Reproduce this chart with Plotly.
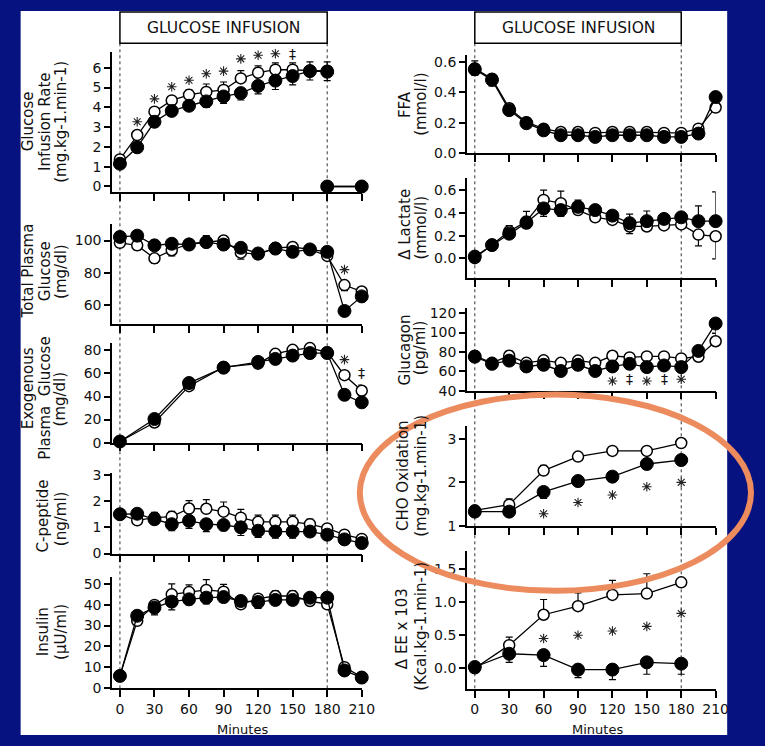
import plotly.graph_objects as go

W, H = 765, 746

# ---------------- data ----------------
t15 = [0, 15, 30, 45, 60, 75, 90, 105, 120, 135, 150, 165, 180, 195, 210]
t30 = [0, 30, 60, 90, 120, 150, 180]
gir_t = [0, 15, 30, 45, 60, 75, 90, 105, 120, 135, 150, 165, 180]
exo_t = [0, 30, 60, 90, 120, 135, 150, 165, 180, 195, 210]
x_ticks = [0, 30, 60, 90, 120, 150, 180, 210]
x_ticklabels = ["0", "30", "60", "90", "120", "150", "180", "210"]

# Glucose infusion rate
gir_open = [1.37, 2.6, 3.78, 4.35, 4.63, 4.78, 4.88, 5.46, 5.75, 5.9, 5.9, 5.85, 5.85]
gir_open_up = [0.1, 0.15, 0.1, 0.15, 0.25, 0.4, 0.4, 0.4, 0.35, 0.35, 0.35, 0.45, 0.45]
gir_fill = [1.15, 1.98, 3.27, 3.82, 4.08, 4.3, 4.55, 4.72, 5.08, 5.35, 5.58, 5.83, 5.8]
gir_fill_dn = [0.1, 0.1, 0.15, 0.15, 0.2, 0.3, 0.35, 0.35, 0.4, 0.45, 0.45, 0.45, 0.45]
gir_post_t = [180, 210]
gir_post = [0, 0]
gir_sig_x = [15, 30, 45, 60, 75, 90, 105, 120, 135, 150]
gir_sig_y = [3.27, 4.43, 5.04, 5.37, 5.7, 5.83, 6.45, 6.63, 6.71, 6.71]
gir_sig = ["*", "*", "*", "*", "*", "*", "*", "*", "*", "‡"]

# Total plasma glucose
tpg_open = [98.6, 97, 89, 94, 98, 99, 100, 92.5, 91.5, 95.5, 96, 94.5, 90.5, 72.5, 68.5]
tpg_open_dn = [1, 3, 3, 3.5, 2, 1, 1, 4, 2, 1, 1, 2, 1, 3.5, 1]
tpg_fill = [102.2, 103, 97, 98, 97.5, 99, 97.5, 95.5, 92, 95, 93, 94.5, 93, 56.5, 65.5]
tpg_fill_up = [1, 1, 1.5, 2, 3, 4, 2, 2, 1, 1, 1, 1, 1, 1, 1]
tpg_fill_dn = [1, 1, 1, 1, 1, 1, 1, 1, 3, 1, 1, 1, 1, 1, 1]
tpg_sig_x = [195]
tpg_sig_y = [82]
tpg_sig = ["*"]

# Exogenous plasma glucose
exo_open = [1, 17.5, 49, 65.5, 68.5, 77, 80.5, 82, 78.5, 58.5, 45]
exo_open_up = [0, 0, 0, 0, 0, 1, 1, 2, 1, 0, 5]
exo_open_dn = [0, 0, 0, 0, 0, 0, 0, 0, 0, 3, 0]
exo_fill = [1, 20.5, 51.7, 65, 70, 72.6, 75.5, 77.7, 77.7, 41.5, 35]
exo_fill_dn = [0, 1, 1, 1, 1, 1, 1, 1, 1, 1, 3]
exo_sig_x = [195, 210]
exo_sig_y = [72, 60.7]
exo_sig = ["*", "‡"]

# C-peptide
cp_open = [1.5, 1.27, 1.37, 1.41, 1.72, 1.71, 1.6, 1.37, 1.21, 1.21, 1.21, 1.12, 0.96, 0.72, 0.56]
cp_open_up = [0.05, 0.1, 0.2, 0.2, 0.3, 0.35, 0.37, 0.32, 0.26, 0.26, 0.26, 0.2, 0.12, 0.08, 0.05]
cp_fill = [1.5, 1.52, 1.31, 1.12, 1.25, 1.12, 1.09, 1.0, 0.87, 0.84, 0.84, 0.84, 0.72, 0.54, 0.4]
cp_fill_dn = [0.05, 0.05, 0.19, 0.25, 0.29, 0.28, 0.22, 0.31, 0.25, 0.25, 0.25, 0.18, 0.15, 0.08, 0.05]

# Insulin
ins_open = [5.8, 32.3, 39.9, 45, 46.1, 47.1, 46.3, 40.2, 42.9, 44.2, 44.2, 41.8, 40.2, 10, 5.2]
ins_open_up = [0, 0, 2, 5, 3.5, 5, 3.5, 1, 0, 2.5, 2.5, 1, 0, 0, 0]
ins_fill = [5.8, 34.7, 38.6, 41.5, 42.6, 43.4, 43.7, 41.8, 41.3, 42.3, 42.3, 43.4, 43.4, 8.4, 5]
ins_fill_dn = [0, 0, 3.5, 4, 2.5, 3, 2, 1.5, 3, 2, 2, 1, 1, 1, 0]

# FFA
ffa_open = [0.557, 0.489, 0.296, 0.204, 0.161, 0.139, 0.139, 0.133, 0.139, 0.139, 0.139, 0.133, 0.133, 0.161, 0.3]
ffa_open_up = [0.05, 0.03, 0.03, 0.01, 0.01, 0.01, 0.01, 0.01, 0.01, 0.01, 0.01, 0.01, 0.01, 0.01, 0.01]
ffa_fill = [0.551, 0.482, 0.283, 0.197, 0.15, 0.118, 0.118, 0.107, 0.118, 0.118, 0.118, 0.107, 0.107, 0.129, 0.369]
ffa_fill_dn = [0.04, 0.04, 0.03, 0.02, 0.01, 0.01, 0.01, 0.01, 0.01, 0.01, 0.01, 0.01, 0.01, 0.01, 0.01]

# Delta lactate
lac_open = [0.0, 0.116, 0.238, 0.325, 0.516, 0.487, 0.426, 0.362, 0.339, 0.281, 0.281, 0.29, 0.299, 0.209, 0.194]
lac_open_up = [0, 0, 0.05, 0.09, 0.087, 0.107, 0, 0, 0, 0, 0, 0, 0, 0, 0]
lac_open_dn = [0, 0, 0, 0, 0, 0, 0.02, 0.03, 0.03, 0.064, 0.035, 0.03, 0.02, 0.1, 0.2]
lac_fill = [0.014, 0.116, 0.217, 0.313, 0.441, 0.426, 0.455, 0.426, 0.377, 0.31, 0.328, 0.348, 0.362, 0.328, 0.328]
lac_fill_up = [0, 0, 0, 0, 0, 0, 0.06, 0.03, 0.035, 0.08, 0.09, 0.03, 0.04, 0.136, 0.26]
lac_fill_dn = [0, 0, 0.04, 0.03, 0.07, 0.056, 0, 0, 0, 0, 0, 0, 0, 0, 0]

# Glucagon
glc_open = [76, 68.7, 76, 68.7, 71.3, 68.7, 71, 68.7, 76, 74.3, 75.3, 75.3, 73.3, 75, 91]
glc_open_up = [2, 1, 5, 2, 2, 1, 2, 1, 4, 4, 4, 4, 3, 1, 8]
glc_fill = [75, 67.7, 71, 65, 66.7, 60.3, 66.7, 60.3, 65, 67.7, 64.3, 66, 64.3, 81, 109.3]
glc_fill_dn = [2, 1, 4, 2, 3, 1, 3, 3, 3, 3, 3, 3, 3, 1, 10]
glc_sig_x = [120, 135, 150, 165, 180]
glc_sig_y = [50, 51.7, 50, 51.7, 51.7]
glc_sig = ["*", "‡", "*", "‡", "*"]

# CHO oxidation
cho_open = [1.36, 1.49, 2.27, 2.59, 2.72, 2.72, 2.9]
cho_open_up = [0.05, 0.13, 0.12, 0.05, 0.07, 0.07, 0.07]
cho_fill = [1.33, 1.33, 1.78, 2.03, 2.13, 2.42, 2.51]
cho_fill_dn = [0.1, 0.03, 0.15, 0.07, 0.1, 0.12, 0.1]
cho_sig_x = [60, 90, 120, 150, 180]
cho_sig_y = [1.28, 1.54, 1.71, 1.9, 2.0]
cho_sig = ["*", "*", "*", "*", "*"]

# Delta energy expenditure
ee_open = [0.0, 0.35, 0.81, 0.94, 1.11, 1.13, 1.3]
ee_open_up = [0, 0.12, 0.23, 0.2, 0.22, 0.3, 0.05]
ee_fill = [0.02, 0.22, 0.2, -0.02, -0.02, 0.09, 0.07]
ee_fill_dn = [0.02, 0.13, 0.17, 0.12, 0.15, 0.18, 0.16]
ee_sig_x = [60, 90, 120, 150, 180]
ee_sig_y = [0.45, 0.5, 0.565, 0.634, 0.83]
ee_sig = ["*", "*", "*", "*", "*"]

# ---------------- styles / layout ----------------
BLUE = "#061280"
ORANGE = "#EC8B5E"
FONT = "DejaVu Sans"


def px_x(px):
    return px / W


def px_y(py):
    return 1 - py / H


panels = [
    dict(col="L", top=47, bottom=190, yr=[-0.30, 6.79], yt=[0, 1, 2, 3, 4, 5, 6], fmt=None,
         titles=[("Glucose", 28, 118), ("Infusion Rate", 46, 118), ("(mg.kg-1.min-1)", 62, 118)],
         series=[(gir_t, gir_open, gir_open_up, None, "open"), (gir_t, gir_fill, None, gir_fill_dn, "fill"),
                 (gir_post_t, gir_post, None, None, "open"), (gir_post_t, gir_post, None, None, "fill")],
         sig=(gir_sig_x, gir_sig_y, gir_sig)),
    dict(col="L", top=222, bottom=324, yr=[48.5, 110.3], yt=[60, 80, 100], fmt=None,
         titles=[("Total Plasma", 28, 270), ("Glucose", 46, 270), ("(mg/dl)", 62, 270)],
         series=[(t15, tpg_open, None, tpg_open_dn, "open"), (t15, tpg_fill, tpg_fill_up, tpg_fill_dn, "fill")],
         sig=(tpg_sig_x, tpg_sig_y, tpg_sig)),
    dict(col="L", top=343, bottom=445, yr=[0, 86.8], yt=[0, 20, 40, 60, 80], fmt=None,
         titles=[("Exogenous", 28, 390), ("Plasma  Glucose", 46, 400), ("(mg/dl)", 62, 400)],
         series=[(exo_t, exo_open, exo_open_up, exo_open_dn, "open"), (exo_t, exo_fill, None, exo_fill_dn, "fill")],
         sig=(exo_sig_x, exo_sig_y, exo_sig)),
    dict(col="L", top=476, bottom=558, yr=[0, 3.075], yt=[0, 1, 2, 3], fmt=None,
         titles=[("C-peptide", 44, 520), ("(ng/ml)", 62, 522)],
         series=[(t15, cp_open, cp_open_up, None, "open"), (t15, cp_fill, None, cp_fill_dn, "fill")],
         sig=None),
    dict(col="L", top=582, bottom=695, yr=[0, 53.3], yt=[0, 10, 20, 30, 40, 50], fmt=None,
         titles=[("Insulin", 44, 638), ("(µU/ml)", 62, 638)],
         series=[(t15, ins_open, ins_open_up, None, "open"), (t15, ins_fill, None, ins_fill_dn, "fill")],
         sig=None, bottom_axis=True),
    dict(col="R", top=50, bottom=150, yr=[0, 0.645], yt=[0, 0.2, 0.4, 0.6], fmt=".1f",
         titles=[("FFA", 412, 100), ("(mmol/l)", 428, 100)],
         series=[(t15, ffa_open, ffa_open_up, None, "open"), (t15, ffa_fill, None, ffa_fill_dn, "fill")],
         sig=None),
    dict(col="R", top=175, bottom=277, yr=[-0.174, 0.713], yt=[0, 0.2, 0.4, 0.6], fmt=".1f",
         titles=[("Δ Lactate", 412, 222), ("(mmol/l)", 428, 226)],
         series=[(t15, lac_open, lac_open_up, lac_open_dn, "open"), (t15, lac_fill, lac_fill_up, lac_fill_dn, "fill")],
         sig=None),
    dict(col="R", top=308, bottom=392, yr=[40, 125.1], yt=[40, 60, 80, 100, 120], fmt=None,
         titles=[("Glucagon", 412, 350), ("(pg/ml)", 428, 348)],
         series=[(t15, glc_open, glc_open_up, None, "open"), (t15, glc_fill, None, glc_fill_dn, "fill")],
         sig=(glc_sig_x, glc_sig_y, glc_sig)),
    dict(col="R", top=428, bottom=530, yr=[1, 3.29], yt=[1, 2, 3], fmt=None,
         titles=[("CHO Oxidation", 410, 479), ("(mg.kg-1.min-1)", 428, 479)],
         series=[(t30, cho_open, cho_open_up, None, "open"), (t30, cho_fill, None, cho_fill_dn, "fill")],
         sig=(cho_sig_x, cho_sig_y, cho_sig)),
    dict(col="R", top=555, bottom=696, yr=[-0.312, 1.78], yt=[0, 0.5, 1.0, 1.5], fmt=".1f",
         titles=[("Δ EE x 103", 409, 635), ("(Kcal.kg-1.min-1)", 428, 632)],
         series=[(t30, ee_open, ee_open_up, None, "open"), (t30, ee_fill, None, ee_fill_dn, "fill")],
         sig=(ee_sig_x, ee_sig_y, ee_sig), bottom_axis=True),
]

marker_style = {
    "open": dict(symbol="circle", size=11, color="white", line=dict(color="black", width=1.5)),
    "fill": dict(symbol="circle", size=13, color="black", line=dict(color="black", width=1)),
}

fig = go.Figure()
layout = dict(
    width=W, height=H, margin=dict(l=0, r=0, t=0, b=0),
    paper_bgcolor=BLUE, plot_bgcolor="rgba(0,0,0,0)", showlegend=False,
    font=dict(family=FONT, size=14, color="#111"),
)
annotations = []
shapes = []

# white page
shapes.append(dict(type="rect", xref="paper", yref="paper", x0=px_x(21), x1=px_x(740),
                   y0=px_y(743), y1=px_y(5), fillcolor="white", line=dict(width=0), layer="below"))

for i, p in enumerate(panels, start=1):
    sfx = "" if i == 1 else str(i)
    xname, yname = "xaxis" + sfx, "yaxis" + sfx
    xref, yref = "x" + sfx, "y" + sfx
    if p["col"] == "L":
        xdom, xr = [px_x(114), px_x(368)], [-6.83, 210]
    else:
        xdom, xr = [px_x(475), px_x(728)], [-6.86, 210]
    layout[xname] = dict(domain=xdom, range=xr, anchor=yref, showline=True, linecolor="black",
                         linewidth=1.5, ticks="outside", ticklen=7, tickwidth=1.5, tickcolor="black",
                         tickvals=x_ticks, ticktext=x_ticklabels, showticklabels=p.get("bottom_axis", False),
                         showgrid=False, zeroline=False, tickfont=dict(size=14, color="#111"))
    ya = dict(domain=[px_y(p["bottom"]), px_y(p["top"])], range=p["yr"], anchor=xref, showline=True,
              linecolor="black", linewidth=1.5, ticks="outside", ticklen=6, tickwidth=1.5,
              tickcolor="black", tickvals=p["yt"], showgrid=False, zeroline=False,
              tickfont=dict(size=14, color="#111"))
    if p["fmt"]:
        ya["tickformat"] = p["fmt"]
    layout[yname] = ya

    for (xs, ys, up, dn, kind) in p["series"]:
        err = None
        if up is not None or dn is not None:
            err = dict(type="data", symmetric=False,
                       array=up if up is not None else [0] * len(xs),
                       arrayminus=dn if dn is not None else [0] * len(xs),
                       color="black", thickness=1.2, width=3.5)
        fig.add_trace(go.Scatter(x=xs, y=ys, mode="lines+markers", xaxis=xref, yaxis=yref,
                                 line=dict(color="black", width=1.3), marker=marker_style[kind],
                                 error_y=err, cliponaxis=False, hoverinfo="skip"))

    if p["sig"]:
        sx_all, sy_all, ss_all = p["sig"]
        ax_ = [x for x, s in zip(sx_all, ss_all) if s == "*"]
        ay_ = [y for y, s in zip(sy_all, ss_all) if s == "*"]
        if ax_:
            fig.add_trace(go.Scatter(x=ax_, y=ay_, mode="markers", xaxis=xref, yaxis=yref,
                                     marker=dict(symbol="asterisk-open", size=8, color="#222",
                                                 line=dict(color="#222", width=1.1)),
                                     cliponaxis=False, hoverinfo="skip"))
        for sx, sy, s in zip(sx_all, sy_all, ss_all):
            if s != "*":
                annotations.append(dict(x=sx, y=sy, xref=xref, yref=yref, text=s, showarrow=False,
                                        font=dict(size=14, color="#111"), xanchor="center",
                                        yanchor="middle"))

    for (txt, tx, ty) in p["titles"]:
        annotations.append(dict(x=px_x(tx), y=px_y(ty), xref="paper", yref="paper", text=txt,
                                showarrow=False, textangle=-90, xanchor="center", yanchor="middle",
                                font=dict(size=15, color="#111")))

# GLUCOSE INFUSION boxes and dotted lines
for xr_ in ["x", "x6"]:
    shapes.append(dict(type="rect", xref=xr_, yref="paper", x0=0, x1=180, y0=px_y(38), y1=px_y(6),
                       line=dict(color="black", width=1.5), fillcolor="rgba(0,0,0,0)", layer="above"))
    annotations.append(dict(x=90, y=px_y(22), xref=xr_, yref="paper", text="GLUCOSE INFUSION",
                            showarrow=False, xanchor="center", yanchor="middle",
                            font=dict(size=15.5, color="#111")))
    for vx in [0, 180]:
        shapes.append(dict(type="line", xref=xr_, yref="paper", x0=vx, x1=vx, y0=px_y(38), y1=px_y(702),
                           line=dict(color="#333", width=1, dash="dot"), layer="below"))

annotations.append(dict(x=px_x(247), y=px_y(737), xref="paper", yref="paper", text="Minutes",
                        showarrow=False, xanchor="center", yanchor="middle", font=dict(size=13, color="#111")))
annotations.append(dict(x=px_x(608), y=px_y(737), xref="paper", yref="paper", text="Minutes",
                        showarrow=False, xanchor="center", yanchor="middle", font=dict(size=13, color="#111")))

# blue frame strips over the page edge
shapes.append(dict(type="rect", xref="paper", yref="paper", x0=px_x(740), x1=1, y0=0, y1=1,
                   fillcolor=BLUE, line=dict(width=0), layer="above"))
shapes.append(dict(type="rect", xref="paper", yref="paper", x0=0, x1=1, y0=0, y1=px_y(743),
                   fillcolor=BLUE, line=dict(width=0), layer="above"))

# orange highlight ellipse
shapes.append(dict(type="circle", xref="paper", yref="paper", x0=px_x(366), x1=px_x(764),
                   y0=px_y(596), y1=px_y(396), line=dict(color=ORANGE, width=6), layer="above"))

layout["annotations"] = annotations
layout["shapes"] = shapes
fig.update_layout(**layout)
fig.write_html("out.html", config={"displayModeBar": False},
               post_script="document.body.style.margin='0px';document.body.style.overflow='hidden';")
